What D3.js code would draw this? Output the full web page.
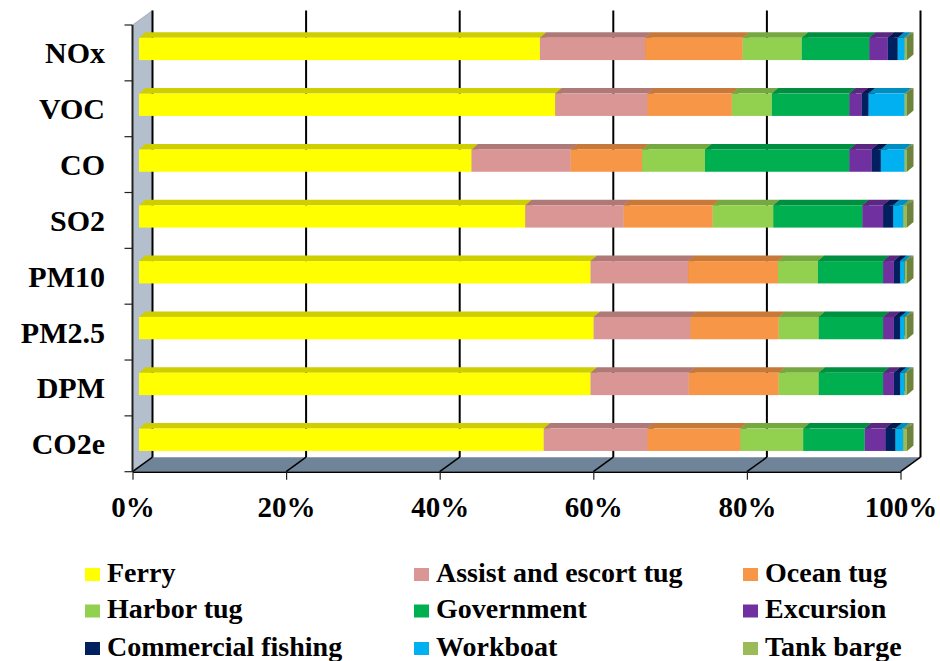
<!DOCTYPE html>
<html>
<head>
<meta charset="utf-8">
<script src="https://cdn.jsdelivr.net/npm/d3@7"></script>
<style>
  html, body { margin: 0; padding: 0; background: #fff; }
  svg { display: block; }
  text { font-family: "Liberation Serif", "DejaVu Serif", serif; font-weight: bold; fill: #000; }
</style>
</head>
<body>
<svg id="chart" width="940" height="661"></svg>
<script>
// ---- data (percent share of emissions) ----
const categories = ["NOx", "VOC", "CO", "SO2", "PM10", "PM2.5", "DPM", "CO2e"];
const seriesNames = ["Ferry", "Assist and escort tug", "Ocean tug", "Harbor tug", "Government",
                     "Excursion", "Commercial fishing", "Workboat", "Tank barge"];
const ferry      = [52.2, 54.2, 43.3, 50.3, 58.8, 59.2, 58.8, 52.7];
const assistTug  = [13.7, 12.0, 12.9, 12.8, 12.7, 12.6, 12.8, 13.5];
const oceanTug   = [12.7, 11.0,  9.3, 11.6, 11.7, 11.5, 11.7, 12.1];
const harborTug  = [ 7.7,  5.2,  8.2,  7.9,  5.2,  5.2,  5.2,  8.2];
const government = [ 8.8, 10.1, 18.8, 11.6,  8.5,  8.4,  8.4,  8.0];
const excursion  = [ 2.4,  1.6,  2.9,  2.7,  1.4,  1.4,  1.4,  2.7];
const fishing    = [ 1.3,  0.9,  1.2,  1.3,  0.8,  0.8,  0.8,  1.3];
const workboat   = [ 0.9,  4.7,  3.1,  1.3,  0.6,  0.6,  0.6,  1.0];
const tankBarge  = [ 0.3,  0.3,  0.3,  0.5,  0.3,  0.3,  0.3,  0.5];
const seriesValues = [ferry, assistTug, oceanTug, harborTug, government, excursion, fishing, workboat, tankBarge];
const seriesColors = ["#FFFF00", "#D99694", "#F79646", "#92D050", "#00B050",
                      "#7030A0", "#002060", "#00B0F0", "#9BBB59"];
const xTickValues = [0, 0.2, 0.4, 0.6, 0.8, 1];

// ---- table for the stack ----
const table = categories.map((c, i) => {
  const row = { category: c };
  seriesNames.forEach((s, j) => row[s] = seriesValues[j][i]);
  return row;
});
const stacked = d3.stack().keys(seriesNames).offset(d3.stackOffsetExpand)(table);

// ---- geometry ----
const svg = d3.select("#chart");
const plotLeft = 132.5, plotRight = 900.5, plotTop = 25, plotBottom = 471.7;
const depthX = 20, depthY = -14.5;          // wall / floor depth
const barDX = 6.5, barDY = -4;              // bar front-face offset into depth
const barDepthX = 6.5, barDepthY = -5.5;    // bar thickness

const x = d3.scaleLinear().domain([0, 1]).range([plotLeft, plotRight]);
const yBand = d3.scaleBand().domain(categories).range([plotTop, plotBottom]).paddingInner(0.6).paddingOuter(0.3);
const yCat = d3.scaleBand().domain(categories).range([plotTop, plotBottom]);

const g = svg.append("g");

// left wall
g.append("polygon")
  .attr("points", [[plotLeft, plotTop], [plotLeft + depthX, plotTop + depthY],
                   [plotLeft + depthX, plotBottom + depthY], [plotLeft, plotBottom]].join(" "))
  .attr("fill", "#B3BFCC").attr("stroke", "#8a96a4").attr("stroke-width", 0.6);

// floor
g.append("polygon")
  .attr("points", [[plotLeft, plotBottom], [plotLeft + depthX, plotBottom + depthY],
                   [plotRight + depthX, plotBottom + depthY], [plotRight, plotBottom]].join(" "))
  .attr("fill", "#6F8399");

// back wall gridlines + floor diagonals
xTickValues.forEach(t => {
  const xb = x(t) + depthX;
  g.append("line").attr("x1", xb).attr("x2", xb)
    .attr("y1", plotTop + depthY).attr("y2", plotBottom + depthY)
    .attr("stroke", "#000").attr("stroke-width", 2);
  g.append("line").attr("x1", xb).attr("y1", plotBottom + depthY)
    .attr("x2", x(t)).attr("y2", plotBottom)
    .attr("stroke", "#000").attr("stroke-width", 1.5);
});

// y axis line and ticks at category boundaries
g.append("line").attr("x1", plotLeft).attr("x2", plotLeft)
  .attr("y1", plotTop).attr("y2", plotBottom)
  .attr("stroke", "#222").attr("stroke-width", 2);
categories.concat([null]).forEach((c, i) => {
  const yy = c ? yCat(c) : plotBottom;
  g.append("line").attr("x1", plotLeft - 8).attr("x2", plotLeft)
    .attr("y1", yy).attr("y2", yy).attr("stroke", "#222").attr("stroke-width", 1.2);
});

// category labels
g.selectAll(".catlabel").data(categories).join("text")
  .attr("class", "catlabel")
  .attr("x", 105)
  .attr("y", d => yCat(d) + yCat.bandwidth() / 2 + 10.5)
  .attr("text-anchor", "end")
  .style("font-size", "30px")
  .text(d => d);

// x axis on the front edge of the floor
const xAxis = d3.axisBottom(x).tickValues(xTickValues).tickFormat(d3.format(".0%"))
  .tickSize(8).tickSizeOuter(0).tickPadding(17);
const xa = g.append("g").attr("transform", `translate(0,${plotBottom})`).call(xAxis);
xa.select(".domain").attr("stroke", "#000").attr("stroke-width", 1.5);
xa.selectAll(".tick line").attr("stroke", "#222").attr("stroke-width", 1.2);
xa.selectAll(".tick text").style("font-size", "29px")
  .style("font-family", '"Liberation Serif", serif').style("font-weight", "bold").attr("fill", "#000");

// bars
const bars = g.append("g");
stacked.forEach((layer, j) => {
  const col = seriesColors[j];
  const topCol = d3.color(col).darker(0.6).formatHex();
  const sideCol = d3.color(col).darker(1.0).formatHex();
  layer.forEach(d => {
    const cat = d.data.category;
    const x0 = x(d[0]) + barDX, x1 = x(d[1]) + barDX;
    const yT = yBand(cat) + barDY, yB = yT + yBand.bandwidth();
    // top face
    bars.append("polygon")
      .attr("points", [[x0, yT], [x0 + barDepthX, yT + barDepthY], [x1 + barDepthX, yT + barDepthY], [x1, yT]].join(" "))
      .attr("fill", topCol);
    // right face
    bars.append("polygon")
      .attr("points", [[x1, yT], [x1 + barDepthX, yT + barDepthY], [x1 + barDepthX, yB + barDepthY], [x1, yB]].join(" "))
      .attr("fill", sideCol);
    // front face
    bars.append("rect")
      .attr("x", x0).attr("y", yT).attr("width", Math.max(0, x1 - x0)).attr("height", yBand.bandwidth())
      .attr("fill", col);
  });
});

// legend
const legendCols = [85, 414, 743];
const legendRows = [574.5, 611, 648.5];
const legend = svg.append("g");
seriesNames.forEach((s, i) => {
  const cx = legendCols[i % 3], cy = legendRows[Math.floor(i / 3)];
  legend.append("rect").attr("x", cx).attr("y", cy - 6.5).attr("width", 15).attr("height", 13)
    .attr("fill", seriesColors[i]);
  legend.append("text").attr("x", cx + 22).attr("y", cy + 7)
    .style("font-size", "28px").text(s);
});
</script>
</body>
</html>
